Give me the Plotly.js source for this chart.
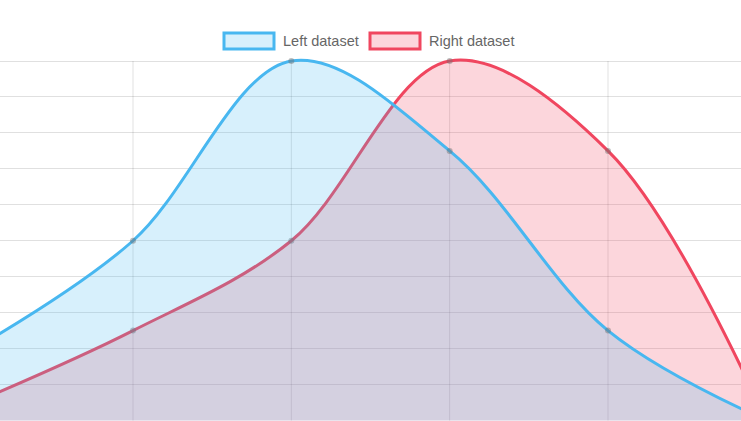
<!DOCTYPE html>
<html>
<head>
<meta charset="utf-8">
<script src="https://cdn.plot.ly/plotly-3.0.1.min.js"></script>
<style>
html,body{margin:0;padding:0;background:#fff;}
#chart{width:741px;height:421px;}
</style>
</head>
<body>
<div id="chart"></div>
<script>
// Data
var categories = [0, 1, 2, 3, 4, 5];
var leftData = [20, 50, 100, 75, 25, 0];
var rightData = [5, 25, 50, 100, 75, 0];
var seriesNames = ['Left dataset', 'Right dataset'];
var yTicks = [0, 10, 20, 30, 40, 50, 60, 70, 80, 90, 100];
var xTicks = [1, 2, 3, 4];

var W = 741, H = 421;
var yTop = 100;
var blueLine = 'rgb(72,183,240)';
var blueFill = 'rgba(75,185,240,0.22)';
var redLine = 'rgb(240,70,95)';
var redFill = 'rgba(240,70,95,0.22)';
var gridColor = 'rgba(0,0,0,0.12)';

function trace(y, name, lineColor, fillColor) {
  return {
    x: categories, y: y, name: name, type: 'scatter', mode: 'lines+markers',
    fill: 'tozeroy', fillcolor: fillColor,
    line: {color: lineColor, width: 3, shape: 'spline', smoothing: 1},
    marker: {size: 6, color: 'rgba(110,110,110,0.45)', line: {width: 0}},
    hoverinfo: 'skip', showlegend: false
  };
}

var data = [
  trace(rightData, seriesNames[1], redLine, redFill),
  trace(leftData, seriesNames[0], blueLine, blueFill)
];

function px(x) { return x / W; }
function py(y) { return 1 - y / H; }

var shapes = [];
// vertical grid lines only inside the chart area (0..100)
xTicks.forEach(function (t) {
  shapes.push({type: 'line', xref: 'x', yref: 'y', x0: t, x1: t, y0: 0, y1: yTop,
               layer: 'below', line: {color: gridColor, width: 1}});
});
shapes.push(
  {type: 'rect', xref: 'paper', yref: 'paper', x0: px(224), x1: px(274), y0: py(49), y1: py(33),
   line: {color: blueLine, width: 3}, fillcolor: 'rgba(75,185,240,0.22)'},
  {type: 'rect', xref: 'paper', yref: 'paper', x0: px(370), x1: px(420), y0: py(49), y1: py(33),
   line: {color: redLine, width: 3}, fillcolor: 'rgba(240,70,95,0.22)'}
);
var annotations = [
  {xref: 'paper', yref: 'paper', x: px(281), y: py(41), xanchor: 'left', yanchor: 'middle',
   text: seriesNames[0], showarrow: false, font: {family: 'Liberation Sans, Arial, sans-serif', size: 14.5, color: '#666'}},
  {xref: 'paper', yref: 'paper', x: px(427), y: py(41), xanchor: 'left', yanchor: 'middle',
   text: seriesNames[1], showarrow: false, font: {family: 'Liberation Sans, Arial, sans-serif', size: 14.5, color: '#666'}}
];

var layout = {
  width: W, height: H,
  margin: {l: 0, r: 0, t: 0, b: 0, pad: 0},
  paper_bgcolor: '#fff', plot_bgcolor: '#fff',
  showlegend: false,
  xaxis: {range: [0.160, 4.840], tickvals: xTicks, showticklabels: false, showgrid: false,
          zeroline: false, showline: false, ticks: ''},
  yaxis: {range: [-0.14, 116.97], tickvals: yTicks, showticklabels: false, showgrid: true,
          gridcolor: gridColor, gridwidth: 1, zeroline: false, showline: false, ticks: ''},
  shapes: shapes,
  annotations: annotations
};

Plotly.newPlot('chart', data, layout, {staticPlot: true, displayModeBar: false});
</script>
</body>
</html>
